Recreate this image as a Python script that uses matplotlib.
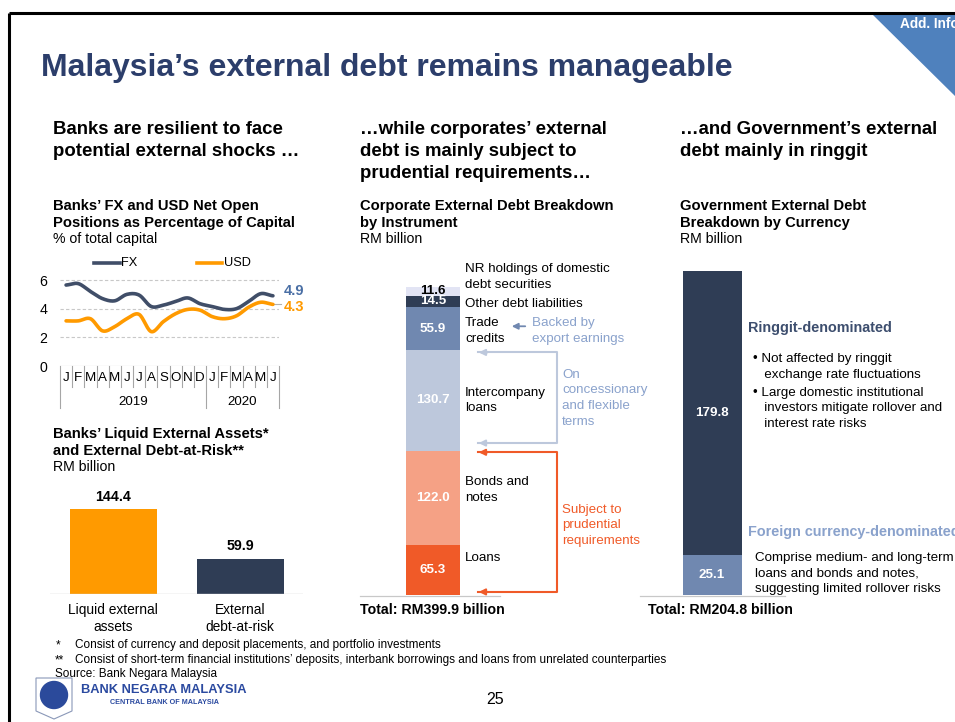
import numpy as np
import matplotlib
matplotlib.use('Agg')
import matplotlib.pyplot as plt
from matplotlib.patches import Polygon, Circle

plt.rcParams['font.family'] = ['Liberation Sans', 'DejaVu Sans']

W, H = 955, 722

# net open positions, % of capital, Jan 2019 - Jun 2020
months = ['J', 'F', 'M', 'A', 'M', 'J', 'J', 'A', 'S', 'O', 'N', 'D',
          'J', 'F', 'M', 'A', 'M', 'J']
years = ['2019', '2020']
fx = [5.65, 5.75, 5.2, 4.7, 4.55, 5.0, 4.95, 4.15, 4.25, 4.5, 4.75, 4.35,
      4.15, 3.95, 4.0, 4.5, 5.05, 4.9]
usd = [3.15, 3.15, 3.3, 2.45, 2.75, 3.3, 3.6, 2.4, 3.1, 3.65, 3.95, 3.9,
       3.45, 3.3, 3.5, 4.1, 4.45, 4.3]

# liquid external assets vs debt-at-risk, RM billion
bank_cats = ['Liquid external\nassets', 'External\ndebt-at-risk']
bank_vals = [144.4, 59.9]

# corporate external debt by instrument, RM billion (bottom to top)
corp_cats = ['Loans', 'Bonds and\nnotes', 'Intercompany\nloans', 'Trade\ncredits',
             'Other debt liabilities', 'NR holdings of domestic\ndebt securities']
corp_vals = [65.3, 122.0, 130.7, 55.9, 14.5, 11.6]
corp_total = 399.9

# government external debt by currency, RM billion (bottom to top)
gov_cats = ['Foreign currency-denominated', 'Ringgit-denominated']
gov_vals = [25.1, 179.8]
gov_total = 204.8

NAVY = '#2f3d55'
ORANGE = '#ff9a00'
SLATE = '#7088b0'
PALE = '#bdc8dc'
SALMON = '#f5a185'
RED = '#f05a28'
LAV = '#e2e4f4'
TITLE = '#2c3e6b'
ANNO = '#8aa2cc'

BODY = 9.6
LS = 1.4


def box(x0, y0, x1, y1):
    return [x0 / W, 1 - y1 / H, (x1 - x0) / W, (y1 - y0) / H]


def smooth(vals, n=16):
    p = np.concatenate([[vals[0]], vals, [vals[-1]]])
    xs, ys = [], []
    t = np.linspace(0, 1, n, endpoint=False)
    for i in range(len(vals) - 1):
        p0, p1, p2, p3 = p[i], p[i + 1], p[i + 2], p[i + 3]
        ys.append(0.5 * (2 * p1 + (-p0 + p2) * t + (2 * p0 - 5 * p1 + 4 * p2 - p3) * t ** 2
                         + (-p0 + 3 * p1 - 3 * p2 + p3) * t ** 3))
        xs.append(i + t)
    xs.append([len(vals) - 1])
    ys.append([vals[-1]])
    return np.concatenate(xs), np.concatenate(ys)


fig = plt.figure(figsize=(9.55, 7.22), dpi=100)

# page layer in pixel units
pg = fig.add_axes([0, 0, 1, 1])
pg.set_xlim(0, W)
pg.set_ylim(H, 0)
pg.axis('off')

pg.plot([9, W], [13, 13], color='black', lw=2.2, solid_capstyle='butt')
pg.plot([9, 9], [13, H], color='black', lw=2.2, solid_capstyle='butt')
pg.add_patch(Polygon([[872, 14], [W, 14], [W, 96]], closed=True, color='#4f81bd', lw=0))
pg.text(900, 24, 'Add. Info', color='white', fontsize=9.8, fontweight='bold', va='center')

pg.text(41, 68, 'Malaysia\u2019s external debt remains manageable', color=TITLE,
        fontsize=23, fontweight='bold', va='center')

# multi-line texts below are anchored on the baseline of their last line
head = dict(fontsize=13.4, fontweight='bold', va='baseline', linespacing=1.38)
pg.text(53, 156, 'Banks are resilient to face\npotential external shocks \u2026', **head)
pg.text(360, 178, '\u2026while corporates\u2019 external\ndebt is mainly subject to\nprudential requirements\u2026', **head)
pg.text(680, 156, '\u2026and Government\u2019s external\ndebt mainly in ringgit', **head)

sub = dict(fontsize=10.6, fontweight='bold', va='baseline', linespacing=1.3)
unit = dict(fontsize=10.2, va='center')
pg.text(53, 227, 'Banks\u2019 FX and USD Net Open\nPositions as Percentage of Capital', **sub)
pg.text(53, 239, '% of total capital', **unit)
pg.text(360, 227, 'Corporate External Debt Breakdown\nby Instrument', **sub)
pg.text(360, 239, 'RM billion', **unit)
pg.text(680, 227, 'Government External Debt\nBreakdown by Currency', **sub)
pg.text(680, 239, 'RM billion', **unit)
pg.text(53, 455, 'Banks\u2019 Liquid External Assets*\nand External Debt-at-Risk**', **sub)
pg.text(53, 467, 'RM billion', **unit)

foot = dict(fontsize=8.5, va='center')
pg.text(56, 645, '*', **foot)
pg.text(75, 645, 'Consist of currency and deposit placements, and portfolio investments', **foot)
pg.text(55, 660, '**', **foot)
pg.text(75, 660, 'Consist of short-term financial institutions\u2019 deposits, interbank borrowings '
        'and loans from unrelated counterparties', **foot)
pg.text(55, 674, 'Source: Bank Negara Malaysia', **foot)

# central bank crest and name
pg.add_patch(Polygon([[36, 678], [72, 678], [72, 711], [54, 719], [36, 711]], closed=True,
                     facecolor='white', edgecolor='#8a98b8', lw=0.8))
pg.add_patch(Circle((54, 695), 13.5, color='#2b4a9b'))
pg.text(81, 690, 'BANK NEGARA MALAYSIA', color='#2b4aa0', fontsize=9.3, fontweight='bold', va='center')
pg.text(110, 703, 'CENTRAL BANK OF MALAYSIA', color='#2b4aa0', fontsize=5.2, fontweight='bold', va='center')
pg.text(495, 699, '25', fontsize=11.5, ha='center', va='center')

# ---- FX / USD net open positions
ax = fig.add_axes(box(60, 270, 279, 366))
ax.set_xlim(-0.5, 17.5)
ax.set_ylim(0, 6.7)
for s in ax.spines.values():
    s.set_visible(False)
ax.set_xticks([])
ax.set_yticks([0, 2, 4, 6])
ax.tick_params(axis='y', length=0, labelsize=10.2, pad=9)
for v in [2, 4, 6]:
    ax.axhline(v, color='#c8c8c8', lw=0.8, ls=(0, (3, 2)), zorder=1)
ax.axhline(0, color='#a6a6a6', lw=0.8, zorder=1)

xs, ys = smooth(np.array(fx))
ax.plot(xs, ys, color='#404e68', lw=2.6, zorder=3, solid_capstyle='round')
xs, ys = smooth(np.array(usd))
ax.plot(xs, ys, color=ORANGE, lw=2.6, zorder=3, solid_capstyle='round')
ax.plot([17.05, 17.7], [usd[-1], usd[-1]], color='#b0b0b0', lw=0.8, clip_on=False)
ax.text(17.9, fx[-1] + 0.35, f'{fx[-1]:.1f}', color='#4a6fa5', fontsize=10.5,
        fontweight='bold', va='center', clip_on=False)
ax.text(17.9, usd[-1] - 0.2, f'{usd[-1]:.1f}', color=ORANGE, fontsize=10.5,
        fontweight='bold', va='center', clip_on=False)

# legend row
ax.plot([2.3, 4.4], [7.2, 7.2], color='#404e68', lw=2.6, clip_on=False)
ax.text(4.5, 7.2, 'FX', fontsize=9.2, va='center')
ax.plot([10.8, 12.8], [7.2, 7.2], color=ORANGE, lw=2.6, clip_on=False)
ax.text(12.95, 7.2, 'USD', fontsize=9.2, va='center')

# month / year category axis
for i, m in enumerate(months):
    ax.text(i, -0.84, m, fontsize=9.6, ha='center', va='center')
for i in range(len(months) + 1):
    edge = i - 0.5
    low = -2.9 if i in (0, 12, len(months)) else -1.5
    ax.plot([edge, edge], [0, low], color='#a6a6a6', lw=0.8, clip_on=False)
ax.text(5.5, -2.5, years[0], fontsize=9.6, ha='center', va='center')
ax.text(14.5, -2.5, years[1], fontsize=9.6, ha='center', va='center')

# ---- liquid assets vs debt-at-risk
bx = fig.add_axes(box(50, 480, 303, 594))
bx.set_xlim(50, 303)
bx.set_ylim(0, 193.6)
bx.axis('off')
bpos = [113, 240]
bx.bar(bpos, bank_vals, width=87, color=[ORANGE, NAVY])
bx.axhline(0, color='#d0d0d0', lw=1)
for x, v, c in zip(bpos, bank_vals, bank_cats):
    bx.text(x, v + 9, f'{v:.1f}', fontsize=10.2, fontweight='bold', ha='center', va='bottom')
    bx.text(x, -15, c, fontsize=BODY + 0.3, ha='center', va='top', linespacing=1.3)

# ---- corporate external debt stack
cx = fig.add_axes(box(360, 250, 660, 595))
cx.set_xlim(360, 660)
cx.set_ylim(0, 448)
cx.axis('off')
ccols = [RED, SALMON, PALE, SLATE, NAVY, LAV]
cbase = np.concatenate([[0], np.cumsum(corp_vals)[:-1]])
cx.bar(433, corp_vals, width=54, bottom=cbase, color=ccols, lw=0)
for v, b, col in zip(corp_vals, cbase, ccols):
    tc = 'black' if col == LAV else 'white'
    cx.text(433, b + v / 2, f'{v:.1f}', color=tc, fontsize=9.6, fontweight='bold',
            ha='center', va='center')
lab_off = [15, 10, 0, -3, -3, 19]
for v, b, name, off in zip(corp_vals, cbase, corp_cats, lab_off):
    cx.text(465, b + v / 2 + off, name, fontsize=BODY, va='center', linespacing=LS)
cx.plot([360, 500], [-1, -1], color='#c8c8c8', lw=0.9, clip_on=False)
cx.text(360, -19, f'Total: RM{corp_total:.1f} billion', fontsize=10.2,
        fontweight='bold', va='center')

tc_mid = cbase[3] + corp_vals[3] / 2
cx.annotate('', xy=(509, tc_mid + 3), xytext=(528, tc_mid + 3),
            arrowprops=dict(arrowstyle='-|>', color=SLATE, lw=1.3, mutation_scale=9))
cx.text(532, tc_mid - 3.5, 'Backed by\nexport earnings', color=ANNO, fontsize=BODY,
        va='center', linespacing=LS)

ic_top = cbase[2] + corp_vals[2]
ic_bot = cbase[2]
cx.plot([478, 557, 557, 478], [ic_top - 3, ic_top - 3, ic_bot + 10, ic_bot + 10],
        color=PALE, lw=1.5)
for y in (ic_top - 3, ic_bot + 10):
    cx.annotate('', xy=(476, y), xytext=(490, y),
                arrowprops=dict(arrowstyle='-|>', color=PALE, lw=1.5, mutation_scale=9))
cx.text(562, (ic_top + ic_bot) / 2 + 3, 'On\nconcessionary\nand flexible\nterms',
        color=ANNO, fontsize=BODY, va='center', linespacing=LS)

cx.plot([478, 557, 557, 478], [ic_bot - 2, ic_bot - 2, 4, 4], color=RED, lw=1.5)
for y in (ic_bot - 2, 4):
    cx.annotate('', xy=(476, y), xytext=(490, y),
                arrowprops=dict(arrowstyle='-|>', color=RED, lw=1.5, mutation_scale=9))
cx.text(562, ic_bot / 2 - 3, 'Subject to\nprudential\nrequirements', color=RED,
        fontsize=BODY, va='center', linespacing=LS)

# ---- government external debt stack
gx = fig.add_axes(box(640, 250, 955, 595))
gx.set_xlim(640, 955)
gx.set_ylim(0, 218.2)
gx.axis('off')
gcols = [SLATE, NAVY]
gbase = [0, gov_vals[0]]
gx.bar(712, gov_vals, width=59, bottom=gbase, color=gcols, lw=0)
for v, b in zip(gov_vals, gbase):
    gx.text(712, b + v / 2, f'{v:.1f}', color='white', fontsize=9.6,
            fontweight='bold', ha='center', va='center')
gx.plot([640, 785], [-0.6, -0.6], color='#c8c8c8', lw=0.9, clip_on=False)
gx.text(648, -9.5, f'Total: RM{gov_total:.1f} billion', fontsize=10.2,
        fontweight='bold', va='center')

gx.text(748, 169, gov_cats[1], color='#3d4e6e', fontsize=10.4, fontweight='bold', va='center')
gx.text(753, 137.3, '\u2022 Not affected by ringgit\n   exchange rate fluctuations',
        fontsize=BODY, va='baseline', linespacing=LS)
gx.text(753, 106.3, '\u2022 Large domestic institutional\n   investors mitigate rollover and\n   interest rate risks',
        fontsize=BODY, va='baseline', linespacing=LS)
gx.text(748, 40, gov_cats[0], color=ANNO, fontsize=10.4, fontweight='bold', va='center',
        clip_on=True)
gx.text(755, 1.9, 'Comprise medium- and long-term\nloans and bonds and notes,\nsuggesting limited rollover risks',
        fontsize=BODY, va='baseline', linespacing=LS)

fig.savefig('out.png', dpi=100)
